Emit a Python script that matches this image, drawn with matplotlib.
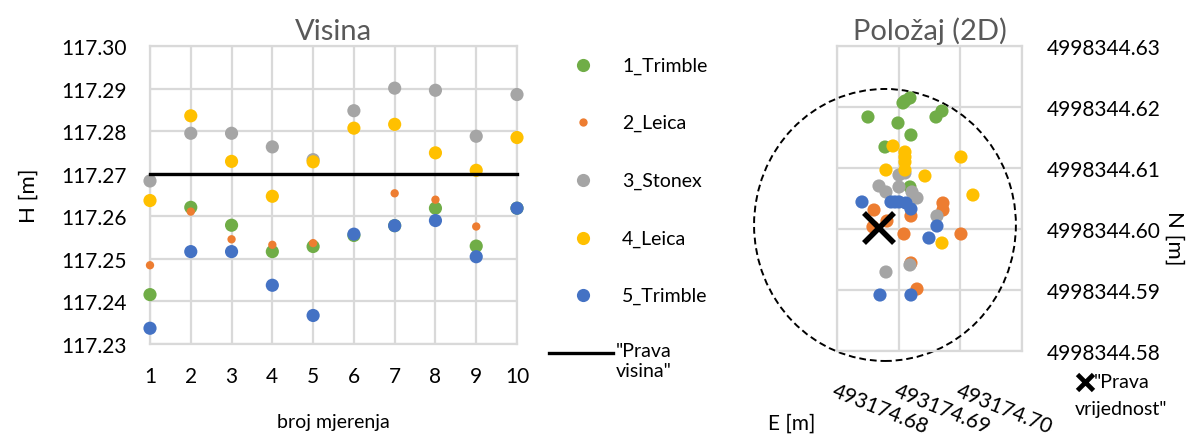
import matplotlib
matplotlib.use("Agg")
import matplotlib.pyplot as plt
from matplotlib.patches import Ellipse
from matplotlib.lines import Line2D

plt.rcParams['font.family'] = ['Lato', 'DejaVu Sans']

# ---- height measurements (Visina) ----
measurement = [1, 2, 3, 4, 5, 6, 7, 8, 9, 10]
h_trimble1 = [117.2416, 117.2621, 117.2579, 117.2517, 117.2529, 117.2555, 117.2578, 117.2619, 117.2530, 117.2619]
h_leica2   = [117.2485, 117.2611, 117.2546, 117.2533, 117.2537, 117.2555, 117.2654, 117.2639, 117.2576, 117.2620]
h_stonex3  = [117.2683, 117.2795, 117.2795, 117.2763, 117.2733, 117.2848, 117.2901, 117.2896, 117.2788, 117.2886]
h_leica4   = [117.2637, 117.2836, 117.2729, 117.2647, 117.2728, 117.2807, 117.2816, 117.2749, 117.2708, 117.2785]
h_trimble5 = [117.2337, 117.2517, 117.2517, 117.2438, 117.2367, 117.2558, 117.2578, 117.2590, 117.2505, 117.2619]
h_true = 117.27
h_ticks = [117.23, 117.24, 117.25, 117.26, 117.27, 117.28, 117.29, 117.30]
h_ticklabels = ["117.23", "117.24", "117.25", "117.26", "117.27", "117.28", "117.29", "117.30"]

# ---- 2D positions (Položaj) ----
e_trimble1 = [493174.68502, 493174.69102, 493174.69183, 493174.68989, 493174.69605, 493174.69702, 493174.69199, 493174.68778, 493174.69183, 493174.69070]
n_trimble1 = [4998344.61836, 4998344.62098, 4998344.62148, 4998344.61738, 4998344.61836, 4998344.61934, 4998344.61541, 4998344.61344, 4998344.60689, 4998344.62066]
e_leica2 = [493174.68600, 493174.68810, 493174.68583, 493174.69199, 493174.69718, 493174.69718, 493174.69086, 493174.70010, 493174.69199, 493174.69297]
n_leica2 = [4998344.60311, 4998344.60131, 4998344.60033, 4998344.60213, 4998344.60426, 4998344.60311, 4998344.59918, 4998344.59918, 4998344.59443, 4998344.59016]
e_stonex3 = [493174.69005, 493174.69102, 493174.68681, 493174.68794, 493174.69005, 493174.69216, 493174.69297, 493174.69621, 493174.68794, 493174.69183]
n_stonex3 = [4998344.60885, 4998344.60918, 4998344.60705, 4998344.60607, 4998344.60689, 4998344.60607, 4998344.60508, 4998344.60213, 4998344.59295, 4998344.59410]
e_leica4 = [493174.68908, 493174.69102, 493174.69102, 493174.68794, 493174.69102, 493174.70010, 493174.69426, 493174.70204, 493174.69702, 493174.69102]
n_leica4 = [4998344.61361, 4998344.61262, 4998344.61180, 4998344.60967, 4998344.60967, 4998344.61180, 4998344.60869, 4998344.60557, 4998344.59770, 4998344.61098]
e_trimble5 = [493174.68405, 493174.68875, 493174.69005, 493174.69118, 493174.69199, 493174.69621, 493174.69491, 493174.68697, 493174.69199, 493174.68940]
n_trimble5 = [4998344.60443, 4998344.60443, 4998344.60443, 4998344.60426, 4998344.60328, 4998344.60049, 4998344.59852, 4998344.58918, 4998344.58918, 4998344.60443]
e_true, n_true = 493174.68681, 4998344.60016
circle_center = (493174.68778, 4998344.60066)
circle_size = (0.04246, 0.04459)
e_ticks = [493174.68, 493174.69, 493174.70, 493174.71]
e_ticklabels = ["493174.68", "493174.69", "493174.70", ""]
n_ticks = [4998344.58, 4998344.59, 4998344.60, 4998344.61, 4998344.62, 4998344.63]
n_ticklabels = ["4998344.58", "4998344.59", "4998344.60", "4998344.61", "4998344.62", "4998344.63"]

names = ["1_Trimble", "2_Leica", "3_Stonex", "4_Leica", "5_Trimble"]
colors = ["#70AD47", "#ED7D31", "#A5A5A5", "#FFC000", "#4472C4"]
sizes_h = [90, 36, 90, 90, 90]

W, H = 1193, 439
fig = plt.figure(figsize=(W / 100, H / 100), dpi=100)

def fx(px):
    return px / W

def fy(py):
    return 1 - py / H

grid_c = "#D9D9D9"
title_c = "#595959"
tick_fs = 15
leg_fs = 14

# ---------- Visina ----------
ax1 = fig.add_axes([fx(150), fy(345), fx(517) - fx(150), fy(47) - fy(345)])
h_series = [h_trimble1, h_leica2, h_stonex3, h_leica4, h_trimble5]
for vals, c, s, name in zip(h_series, colors, sizes_h, names):
    ax1.scatter(measurement, vals, s=s, color=c, edgecolors="none", clip_on=False, zorder=3, label=name)
ax1.plot([measurement[0], measurement[-1]], [h_true, h_true], color="black", lw=2.4, zorder=4, clip_on=False)
ax1.set_xlim(1, 10)
ax1.set_ylim(117.23, 117.30)
ax1.set_xticks(measurement)
ax1.set_xticklabels([str(m) for m in measurement], fontsize=tick_fs)
ax1.set_yticks(h_ticks)
ax1.set_yticklabels(h_ticklabels, fontsize=tick_fs)
ax1.grid(True, color=grid_c, lw=1.6)
ax1.set_axisbelow(True)
for sp in ax1.spines.values():
    sp.set_color(grid_c)
    sp.set_linewidth(1.6)
ax1.tick_params(axis="y", length=0, pad=17)
ax1.tick_params(axis="x", length=0, pad=16)
ax1.set_title("Visina", fontsize=21, color=title_c, pad=5)
ax1.set_xlabel("broj mjerenja", fontsize=14, labelpad=19)
ax1.set_ylabel("H [m]", fontsize=16, labelpad=16)

# legend column for the height chart
leg_rows = [66, 123, 181, 239, 296]
for (py, c, s, name) in zip(leg_rows, colors, sizes_h, names):
    fig.add_artist(Line2D([fx(583)], [fy(py)], marker="o", ls="none", color=c,
                          markersize=(s ** 0.5), markeredgewidth=0, transform=fig.transFigure))
    fig.text(fx(622), fy(py), name, fontsize=leg_fs, va="center", ha="left")
fig.add_artist(Line2D([fx(549), fx(613)], [fy(354), fy(354)], color="black", lw=2.4, transform=fig.transFigure))
fig.text(fx(616), fy(343), "\"Prava\nvisina\"", fontsize=leg_fs, va="top", ha="left", linespacing=1.2)

# ---------- Položaj (2D) ----------
ax2 = fig.add_axes([fx(837), fy(352), fx(1022) - fx(837), fy(47) - fy(352)])
pos_series = [(e_trimble1, n_trimble1), (e_leica2, n_leica2), (e_stonex3, n_stonex3),
              (e_leica4, n_leica4), (e_trimble5, n_trimble5)]
for (ev, nv), c in zip(pos_series, colors):
    ax2.scatter(ev, nv, s=90, color=c, edgecolors="none", clip_on=False, zorder=3)
ax2.plot([e_true], [n_true], marker="x", color="black", markersize=22, mew=4, ls="none", zorder=5, clip_on=False)
ax2.add_patch(Ellipse(circle_center, circle_size[0], circle_size[1], fill=False, ec="black",
                      ls=(0, (3.5, 2)), lw=1.4, clip_on=False, zorder=2))
ax2.set_xlim(e_ticks[0], e_ticks[-1])
ax2.set_ylim(n_ticks[0], n_ticks[-1])
ax2.set_xticks(e_ticks)
ax2.set_xticklabels(e_ticklabels, fontsize=tick_fs, rotation=-22, ha="left", va="top", rotation_mode="anchor")
ax2.set_yticks(n_ticks)
ax2.set_yticklabels(n_ticklabels, fontsize=tick_fs)
ax2.yaxis.tick_right()
ax2.grid(True, color=grid_c, lw=1.6)
ax2.set_axisbelow(True)
for sp in ax2.spines.values():
    sp.set_color(grid_c)
    sp.set_linewidth(1.6)
ax2.tick_params(axis="y", length=0, pad=18)
ax2.tick_params(axis="x", length=0, pad=21)
ax2.set_title("Položaj (2D)", fontsize=21, color=title_c, pad=5)
fig.text(fx(792), fy(424), "E [m]", fontsize=15, ha="center", va="center")
fig.text(fx(1174), fy(238), "N [m]", fontsize=16, ha="center", va="center", rotation=-90)

# marker key for the reference point
fig.add_artist(Line2D([fx(1085)], [fy(383)], marker="x", ls="none", color="black",
                      markersize=11, mew=3.4, transform=fig.transFigure))
fig.text(fx(1094), fy(383), "\"Prava", fontsize=leg_fs, va="center", ha="left")
fig.text(fx(1075), fy(410), "vrijednost\"", fontsize=leg_fs, va="center", ha="left")

fig.savefig("out.png", dpi=100, facecolor="white")
